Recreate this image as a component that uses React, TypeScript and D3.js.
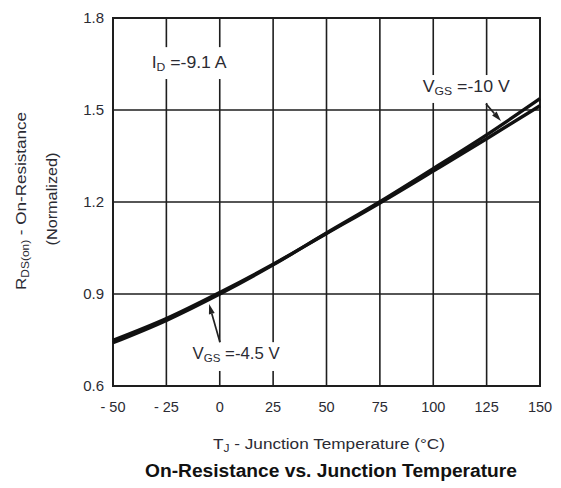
import React from "react";
import * as d3 from "d3";

// ---- data ----
const temps = [-50, -25, 0, 25, 50, 75, 100, 125, 150];
const rdsVgs45 = [0.749, 0.820, 0.905, 0.997, 1.097, 1.197, 1.301, 1.406, 1.514];
const rdsVgs10 = [0.741, 0.814, 0.900, 0.995, 1.099, 1.201, 1.309, 1.419, 1.537];
const xTicks = [-50, -25, 0, 25, 50, 75, 100, 125, 150];
const xTickLabels = ["- 50", "- 25", "0", "25", "50", "75", "100", "125", "150"];
const yTicks = [0.6, 0.9, 1.2, 1.5, 1.8];
const yTickLabels = ["0.6", "0.9", "1.2", "1.5", "1.8"];

const W = 561;
const H = 488;

export default function App() {
  const x = d3.scaleLinear().domain([-50, 150]).range([113, 540]);
  const y = d3.scaleLinear().domain([0.6, 1.8]).range([386, 18]);

  const line = d3
    .line<[number, number]>()
    .x((d) => x(d[0]))
    .y((d) => y(d[1]))
    .curve(d3.curveMonotoneX);

  const s45 = temps.map((t, i) => [t, rdsVgs45[i]] as [number, number]);
  const s10 = temps.map((t, i) => [t, rdsVgs10[i]] as [number, number]);

  const font = "'Liberation Sans', Arial, Helvetica, sans-serif";
  const gridColor = "#1e1e1e";
  const textColor = "#2b2b33";

  const box = (t0: number, t1: number, v0: number, v1: number, key: string) => (
    <rect
      key={key}
      x={x(t0)}
      y={y(v0)}
      width={x(t1) - x(t0)}
      height={y(v1) - y(v0)}
      fill="#fff"
    />
  );

  const arrow = (t0: number, v0: number, t1: number, v1: number, key: string) => {
    const x0 = x(t0), y0 = y(v0), x1 = x(t1), y1 = y(v1);
    const dx = x1 - x0, dy = y1 - y0;
    const len = Math.hypot(dx, dy);
    const ux = dx / len, uy = dy / len;
    const hl = 10, hw = 3;
    const bx = x1 - ux * hl, by = y1 - uy * hl;
    const px = -uy, py = ux;
    return (
      <g key={key}>
        <line x1={x0} y1={y0} x2={bx} y2={by} stroke="#222" strokeWidth={1.7} />
        <polygon
          points={`${x1},${y1} ${bx + px * hw},${by + py * hw} ${bx - px * hw},${by - py * hw}`}
          fill="#222"
        />
      </g>
    );
  };

  return (
    <svg
      width={W}
      height={H}
      style={{ position: "absolute", left: 0, top: 0, background: "#fff" }}
      fontFamily={font}
    >
      <rect x={0} y={0} width={W} height={H} fill="#fff" />
      {/* grid */}
      {xTicks.slice(1, -1).map((t) => (
        <line key={"gx" + t} x1={x(t)} x2={x(t)} y1={y(1.8)} y2={y(0.6)} stroke={gridColor} strokeWidth={1.6} />
      ))}
      {yTicks.slice(1, -1).map((v) => (
        <line key={"gy" + v} x1={x(-50)} x2={x(150)} y1={y(v)} y2={y(v)} stroke={gridColor} strokeWidth={1.6} />
      ))}
      {/* label backgrounds */}
      {box(-35, 7.1, 1.705, 1.601, "b1")}
      {box(91.9, 138.3, 1.614, 1.523, "b2")}
      {box(-15.8, 31.5, 0.743, 0.649, "b3")}
      {/* frame */}
      <rect
        x={x(-50)}
        y={y(1.8)}
        width={x(150) - x(-50)}
        height={y(0.6) - y(1.8)}
        fill="none"
        stroke={gridColor}
        strokeWidth={2}
      />
      {/* curves */}
      <path d={line(s45) || ""} fill="none" stroke="#111" strokeWidth={3.4} />
      <path d={line(s10) || ""} fill="none" stroke="#111" strokeWidth={3.4} />
      {/* arrows */}
      {arrow(124.7, 1.52, 131.7, 1.464, "a1")}
      {arrow(0.1, 0.743, -5.0, 0.867, "a2")}
      {/* annotations */}
      <text x={x(-31.9)} y={y(1.636)} fontSize={16} fill={textColor} textLength={75} lengthAdjust="spacingAndGlyphs">
        I<tspan fontSize={11} dy={3}>D</tspan>
        <tspan dy={-3}> =-9.1 A</tspan>
      </text>
      <text x={x(95.1)} y={y(1.56)} fontSize={16} fill={textColor} textLength={87} lengthAdjust="spacingAndGlyphs">
        V<tspan fontSize={11} dy={3}>GS</tspan>
        <tspan dy={-3}> =-10 V</tspan>
      </text>
      <text x={x(-12.7)} y={y(0.687)} fontSize={16} fill={textColor} textLength={87} lengthAdjust="spacingAndGlyphs">
        V<tspan fontSize={11} dy={3}>GS</tspan>
        <tspan dy={-3}> =-4.5 V</tspan>
      </text>
      {/* y tick labels */}
      {yTicks.map((v, i) => (
        <text key={"yt" + v} x={104} y={y(v) + 5.3} fontSize={15} fill={textColor} textAnchor="end">
          {yTickLabels[i]}
        </text>
      ))}
      {/* x tick labels */}
      {xTicks.map((t, i) => (
        <text key={"xt" + t} x={x(t)} y={411.7} fontSize={14.5} fill={textColor} textAnchor="middle">
          {xTickLabels[i]}
        </text>
      ))}
      {/* x axis title */}
      <text x={213} y={449} fontSize={15} fill={textColor} textLength={232} lengthAdjust="spacingAndGlyphs">
        T<tspan fontSize={10.5} dy={3}>J</tspan>
        <tspan dy={-3}> - Junction Temperature (°C)</tspan>
      </text>
      {/* y axis title */}
      <text
        transform="translate(26,201) rotate(-90)"
        fontSize={15}
        fill={textColor}
        textAnchor="middle"
        textLength={178}
        lengthAdjust="spacingAndGlyphs"
      >
        R<tspan fontSize={10.5} dy={3}>DS(on)</tspan>
        <tspan dy={-3}> - On-Resistance</tspan>
      </text>
      <text
        transform="translate(57,199) rotate(-90)"
        fontSize={15}
        fill={textColor}
        textAnchor="middle"
        textLength={93}
        lengthAdjust="spacingAndGlyphs"
      >
        (Normalized)
      </text>
      {/* chart title */}
      <text x={145} y={477.3} fontSize={18} fontWeight="bold" fill="#111" textLength={372} lengthAdjust="spacingAndGlyphs">
        On-Resistance vs. Junction Temperature
      </text>
    </svg>
  );
}
